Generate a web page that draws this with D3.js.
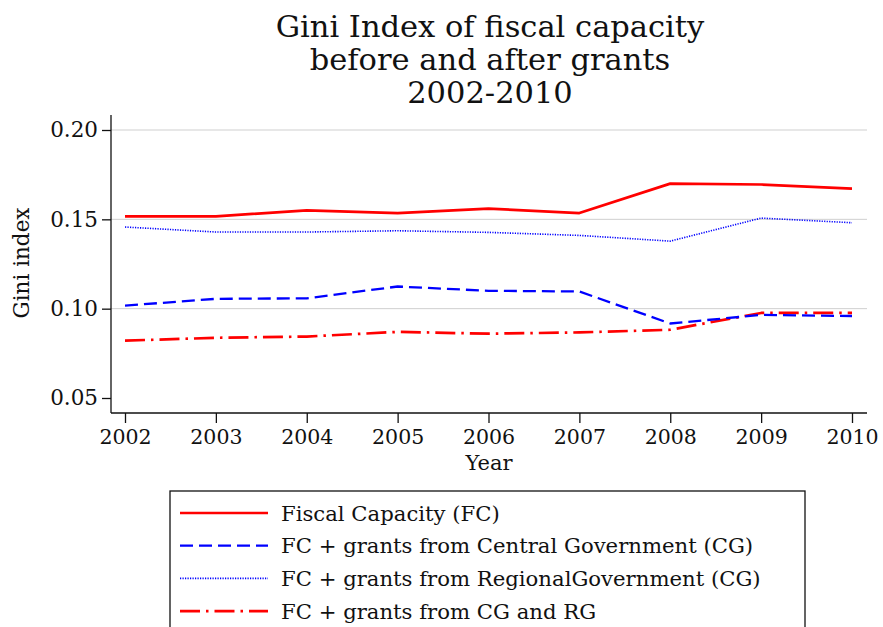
<!DOCTYPE html>
<html><head><meta charset="utf-8">
<script src="https://cdn.jsdelivr.net/npm/d3@7"></script>
<style>
body{margin:0;background:#fff;}
text{font-family:"DejaVu Serif",serif;fill:#111;}
</style></head>
<body><svg id="c" width="883" height="627"></svg>
<script>
const years = [2002,2003,2004,2005,2006,2007,2008,2009,2010];
const fc     = [0.1517,0.1517,0.1550,0.1535,0.1560,0.1535,0.1700,0.1695,0.1672];
const fcCG   = [0.1017,0.1055,0.1058,0.1124,0.1100,0.1096,0.0917,0.0965,0.0959];
const fcRG   = [0.1457,0.1429,0.1429,0.1436,0.1427,0.1410,0.1378,0.1507,0.1481];
const fcCGRG = [0.0821,0.0837,0.0844,0.0870,0.0860,0.0867,0.0882,0.0976,0.0976];
const yTicks = [0.05,0.10,0.15,0.20];
const gridTicks = [0.10,0.15,0.20];
const seriesNames = ["Fiscal Capacity (FC)","FC + grants from Central Government (CG)","FC + grants from RegionalGovernment (CG)","FC + grants from CG and RG"];
const titleLines = ["Gini Index of fiscal capacity","before and after grants","2002-2010"];

const svg = d3.select("#c");
const x = d3.scaleLinear().domain([2002,2010]).range([125,852]);
const y = d3.scaleLinear().domain([0.05,0.20]).range([398,130]);
const axL = 111, axR = 867, axB = 413, axT = 115;

// gridlines
svg.append("g").selectAll("line").data(gridTicks).join("line")
  .attr("x1",axL).attr("x2",axR).attr("y1",d=>y(d)).attr("y2",d=>y(d))
  .attr("stroke","#cfcfcf").attr("stroke-width",1);

// axes
const yAxis = d3.axisLeft(y).tickValues(yTicks).tickFormat(d3.format(".2f")).tickSize(9).tickPadding(4);
const gy = svg.append("g").attr("transform",`translate(${axL},0)`).call(yAxis);
gy.select(".domain").remove();
gy.append("line").attr("x1",0).attr("x2",0).attr("y1",axT).attr("y2",axB).attr("stroke","#111").attr("stroke-width",1.3);
gy.selectAll(".tick line").attr("stroke","#111").attr("stroke-width",1.3);
gy.selectAll(".tick text").attr("font-size",21.5).attr("font-family","DejaVu Serif").attr("fill","#111");

const xAxis = d3.axisBottom(x).tickValues(years).tickFormat(d3.format("d")).tickSize(10).tickPadding(6);
const gx = svg.append("g").attr("transform",`translate(0,${axB})`).call(xAxis);
gx.select(".domain").remove();
gx.append("line").attr("x1",axL).attr("x2",axR).attr("y1",0).attr("y2",0).attr("stroke","#111").attr("stroke-width",1.3);
gx.selectAll(".tick line").attr("stroke","#111").attr("stroke-width",1.3);
gx.selectAll(".tick text").attr("font-size",20.5).attr("font-family","DejaVu Serif").attr("fill","#111");

// axis titles
svg.append("text").attr("x",489).attr("y",470).attr("text-anchor","middle").attr("font-size",21).text("Year");
svg.append("text").attr("transform","translate(29,263) rotate(-90)").attr("text-anchor","middle").attr("font-size",21.5).text("Gini index");

// title
svg.append("g").selectAll("text").data(titleLines).join("text")
  .attr("x",490).attr("y",(d,i)=>37+i*33).attr("text-anchor","middle").attr("font-size",30.5).text(d=>d);

const styles = [
  {color:"#ff0000",w:2.7,dash:null},
  {color:"#0000ff",w:2.3,dash:"13,6"},
  {color:"#0000ff",w:1.6,dash:"1.2,1.3"},
  {color:"#ff0000",w:2.7,dash:"20,6,2.5,6"}
];
const data = [fc,fcCG,fcRG,fcCGRG];
const line = d3.line().x((d,i)=>x(years[i])).y(d=>y(d));
const drawOrder = [3,1,2,0];
drawOrder.forEach(k=>{
  svg.append("path").datum(data[k]).attr("d",line).attr("fill","none")
    .attr("stroke",styles[k].color).attr("stroke-width",styles[k].w)
    .attr("stroke-dasharray",styles[k].dash).attr("stroke-linejoin","round");
});

// legend
const lg = svg.append("g");
lg.append("rect").attr("x",170).attr("y",491).attr("width",635).attr("height",150)
  .attr("fill","#fff").attr("stroke","#111").attr("stroke-width",1.3);
seriesNames.forEach((n,k)=>{
  const yy = 513 + k*32.7;
  lg.append("line").attr("x1",180).attr("x2",268).attr("y1",yy).attr("y2",yy)
    .attr("stroke",styles[k].color).attr("stroke-width",styles[k].w).attr("stroke-dasharray",styles[k].dash);
  lg.append("text").attr("x",281).attr("y",yy+7.5).attr("font-size",21.2).text(n);
});
</script></body></html>
